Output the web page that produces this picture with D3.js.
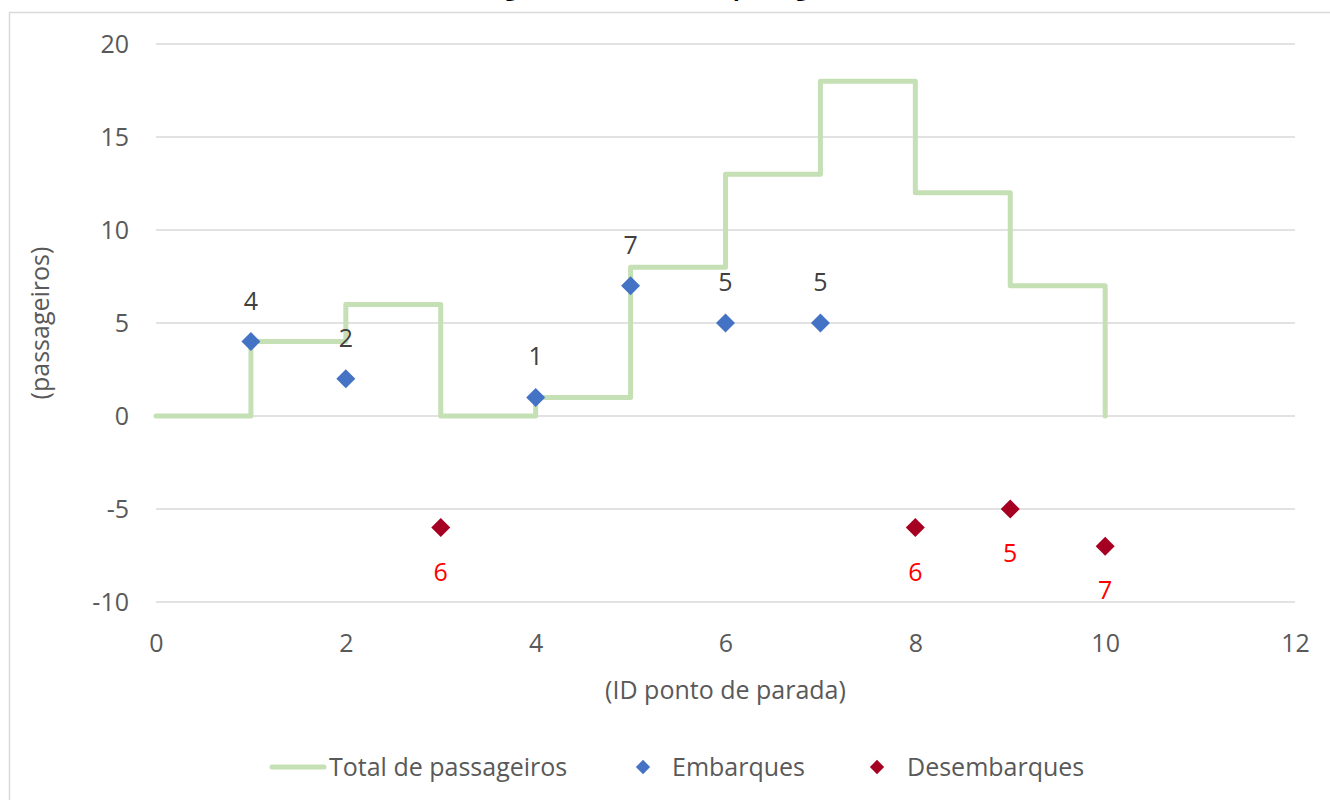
<!DOCTYPE html>
<html><head><meta charset="utf-8">
<script src="https://cdn.jsdelivr.net/npm/d3@7"></script>
<style>body{margin:0;background:#fff;overflow:hidden}svg{display:block}text{font-family:"Open Sans",sans-serif}</style>
</head><body>
<svg id="c" width="1330" height="800"></svg>
<script>
const title = "Carregamento do veículo (passageiros)";
const totalX = [0,1,2,3,4,5,6,7,8,9,10];
const totalY = [0,4,6,0,1,8,13,18,12,7,0];
const embX = [1,2,4,5,6,7];
const embY = [4,2,1,7,5,5];
const desX = [3,8,9,10];
const desY = [-6,-6,-5,-7];
const xTicks = [0,2,4,6,8,10,12];
const yTicks = [-10,-5,0,5,10,15,20];
const legendLabels = ["Total de passageiros","Embarques","Desembarques"];

const svg = d3.select("#c");
const x = d3.scaleLinear().domain([0,12]).range([156,1295]);
const y = d3.scaleLinear().domain([-10,20]).range([602,44]);
const FS = 25;

svg.append("rect").attr("x",9.5).attr("y",12.5).attr("width",1400).attr("height",900)
  .attr("fill","#fff").attr("stroke","#d9d9d9").attr("stroke-width",1.5);
svg.append("text").attr("x",657).attr("y",-4).attr("text-anchor","middle")
  .attr("font-size",22).attr("font-weight","bold").attr("fill","#000").text(title);

// grid
svg.append("g").selectAll("line").data(yTicks).join("line")
  .attr("x1",x(0)).attr("x2",x(12)).attr("y1",d=>y(d)).attr("y2",d=>y(d))
  .attr("stroke","#d9d9d9").attr("stroke-width",1.5);

const fmt = d => String(d);
const ya = svg.append("g").attr("transform",`translate(${x(0)},0)`)
  .call(d3.axisLeft(y).tickValues(yTicks).tickFormat(fmt).tickSize(0).tickPadding(27));
ya.select(".domain").remove();
ya.selectAll("text").attr("font-size",FS).attr("fill","#595959").attr("font-family","Open Sans");

const xa = svg.append("g").attr("transform",`translate(0,${y(-10)})`)
  .call(d3.axisBottom(x).tickValues(xTicks).tickFormat(fmt).tickSize(0).tickPadding(32));
xa.select(".domain").remove();
xa.selectAll("text").attr("font-size",FS).attr("fill","#595959").attr("font-family","Open Sans");

svg.append("text").attr("x",(x(0)+x(12))/2).attr("y",699).attr("text-anchor","middle")
  .attr("font-size",FS).attr("fill","#595959").text("(ID ponto de parada)");
svg.append("text").attr("transform",`translate(49,${(y(20)+y(-10))/2}) rotate(-90)`)
  .attr("text-anchor","middle").attr("font-size",FS).attr("fill","#595959").text("(passageiros)");

// step line
const line = d3.line().x(d=>x(d[0])).y(d=>y(d[1])).curve(d3.curveStepAfter);
svg.append("path").datum(totalX.map((v,i)=>[v,totalY[i]])).attr("d",line)
  .attr("fill","none").attr("stroke","#c5e0b4").attr("stroke-width",5)
  .attr("stroke-linejoin","round").attr("stroke-linecap","round");

const diamond = d3.symbol().type(d3.symbolDiamond2).size(230);
svg.append("g").selectAll("path").data(embX.map((v,i)=>[v,embY[i]])).join("path")
  .attr("d",diamond).attr("transform",d=>`translate(${x(d[0])},${y(d[1])})`).attr("fill","#4472c4");
svg.append("g").selectAll("text").data(embX.map((v,i)=>[v,embY[i]])).join("text")
  .attr("x",d=>x(d[0])).attr("y",d=>y(d[1])-32).attr("text-anchor","middle")
  .attr("font-size",FS).attr("fill","#404040").text(d=>Math.abs(d[1]));
svg.append("g").selectAll("path").data(desX.map((v,i)=>[v,desY[i]])).join("path")
  .attr("d",diamond).attr("transform",d=>`translate(${x(d[0])},${y(d[1])})`).attr("fill","#a50021");
svg.append("g").selectAll("text").data(desX.map((v,i)=>[v,desY[i]])).join("text")
  .attr("x",d=>x(d[0])).attr("y",d=>y(d[1])+53).attr("text-anchor","middle")
  .attr("font-size",FS).attr("fill","#ff0000").text(d=>Math.abs(d[1]));

// legend
const ly = 767;
const lg = svg.append("g");
lg.append("line").attr("x1",272).attr("x2",324).attr("y1",ly).attr("y2",ly)
  .attr("stroke","#c5e0b4").attr("stroke-width",5).attr("stroke-linecap","round");
lg.append("text").attr("x",329).attr("y",ly+9).attr("font-size",FS).attr("fill","#595959").text(legendLabels[0]);
lg.append("path").attr("d",d3.symbol().type(d3.symbolDiamond2).size(130)).attr("transform",`translate(643,${ly})`).attr("fill","#4472c4");
lg.append("text").attr("x",672).attr("y",ly+9).attr("font-size",FS).attr("fill","#595959").text(legendLabels[1]);
lg.append("path").attr("d",d3.symbol().type(d3.symbolDiamond2).size(130)).attr("transform",`translate(877,${ly})`).attr("fill","#a50021");
lg.append("text").attr("x",907).attr("y",ly+9).attr("font-size",FS).attr("fill","#595959").text(legendLabels[2]);
</script>
</body></html>
